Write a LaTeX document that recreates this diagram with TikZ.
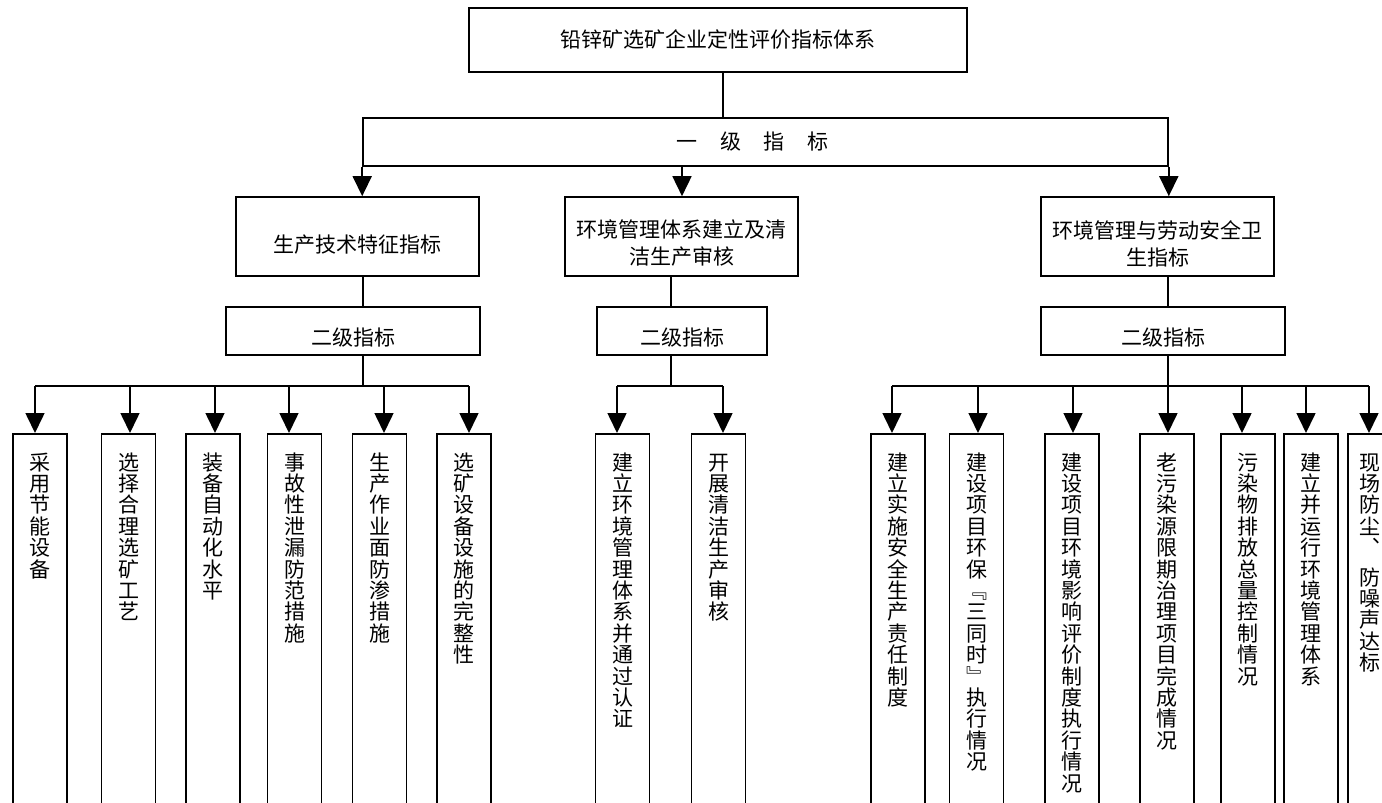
\documentclass[tikz,border=0pt]{standalone}
\usepackage{fontspec}
\newfontfamily\cjk{Noto Sans CJK SC}
\usetikzlibrary{arrows.meta,calc}
\newcommand{\vcol}[3]{%
  \foreach \ch [count=\i from 0] in {#3} {
    \node[vch] at ($(#1.north)+(0,#2+\i*21.4)$) {\ch};
  }}
\begin{document}
\begin{tikzpicture}[x=1pt,y=-1pt,
  every node/.style={font=\cjk},
  box/.style={draw, line width=1.6pt, inner sep=0pt},
  lbl/.style={font=\cjk\fontsize{21}{27}\selectfont, align=center, inner sep=0pt},
  conn/.style={line width=1.6pt},
  arr/.style={line width=1.6pt, -{Triangle[width=19pt,length=20pt]}},
  leaf/.style={box, minimum width=54pt, minimum height=420pt, anchor=north},
  vch/.style={font=\cjk\fontsize{21}{21}\selectfont, inner sep=0pt, text height=18.5pt, text depth=2.5pt},
]
\useasboundingbox (0,0) rectangle (1382,803);
\clip (0,0) rectangle (1382,803);

% top
\node[box, minimum width=498pt, minimum height=64pt,
  label={[lbl]center:铅锌矿选矿企业定性评价指标体系}] (top) at (718,40) {};
\node[box, minimum width=805pt, minimum height=48pt,
  label={[lbl, xshift=-13pt]center:一\hspace{22.7pt}级\hspace{22.7pt}指\hspace{22.7pt}标}] (yi) at (765.5,142) {};

% level 1
\node[box, minimum width=243pt, minimum height=79pt,
  label={[lbl,yshift=-8pt]center:生产技术特征指标}] (a1) at (357.5,236.5) {};
\node[box, minimum width=233pt, minimum height=79pt,
  label={[lbl,yshift=-7pt]center:{环境管理体系建立及清\\洁生产审核}}] (b1) at (681.5,236.5) {};
\node[box, minimum width=233pt, minimum height=79pt,
  label={[lbl,yshift=-7pt]center:{环境管理与劳动安全卫\\生指标}}] (c1) at (1157.5,236.5) {};

% level 2
\node[box, minimum width=254pt, minimum height=48pt,
  label={[lbl,yshift=-7pt]center:二级指标}] (a2) at (353,331) {};
\node[box, minimum width=170pt, minimum height=48pt,
  label={[lbl,yshift=-7pt]center:二级指标}] (b2) at (682,331) {};
\node[box, minimum width=244pt, minimum height=48pt,
  label={[lbl,yshift=-7pt]center:二级指标}] (c2) at (1163,331) {};

% leaves
\node[leaf] (l1) at (40,433) {};
\node[leaf] (l2) at (128.5,433) {};
\node[leaf] (l3) at (213,433) {};
\node[leaf] (l4) at (294.5,433) {};
\node[leaf] (l5) at (379.5,433) {};
\node[leaf] (l6) at (464,433) {};
\node[leaf] (m1) at (622.5,433) {};
\node[leaf] (m2) at (718.5,433) {};
\node[leaf] (r1) at (898,433) {};
\node[leaf] (r2) at (976.5,433) {};
\node[leaf] (r3) at (1072,433) {};
\node[leaf] (r4) at (1167,433) {};
\node[leaf] (r5) at (1248,433) {};
\node[leaf] (r6) at (1311,433) {};
\node[leaf, minimum width=44pt] (r7) at (1370,433) {};

\vcol{l1}{29}{采,用,节,能,设,备}
\vcol{l2}{29}{选,择,合,理,选,矿,工,艺}
\vcol{l3}{29}{装,备,自,动,化,水,平}
\vcol{l4}{29}{事,故,性,泄,漏,防,范,措,施}
\vcol{l5}{29}{生,产,作,业,面,防,渗,措,施}
\vcol{l6}{29}{选,矿,设,备,设,施,的,完,整,性}
\vcol{m1}{29}{建,立,环,境,管,理,体,系,并,通,过,认,证}
\vcol{m2}{29}{开,展,清,洁,生,产,审,核}
\vcol{r1}{29}{建,立,实,施,安,全,生,产,责,任,制,度}
\vcol{r2}{29}{建,设,项,目,环,保,﹃,三,同,时,﹄,执,行,情,况}
\vcol{r3}{29}{建,设,项,目,环,境,影,响,评,价,制,度,执,行,情,况}
\vcol{r4}{29}{老,污,染,源,限,期,治,理,项,目,完,成,情,况}
\vcol{r5}{29}{污,染,物,排,放,总,量,控,制,情,况}
\vcol{r6}{29}{建,立,并,运,行,环,境,管,理,体,系}
\vcol{r7}{29}{现,场,防,尘,︑}
\vcol{r7}{144}{防,噪,声,达,标}

% connector coordinates
\coordinate (tx) at (723,0);
\coordinate (mx) at (682,0);
\coordinate (ax) at (363,0);
\coordinate (bx) at (671,0);
\coordinate (cx) at (1168,0);

\draw[conn] (tx |- top.south) -- (tx |- yi.north);
\draw[arr] (yi.south west) -- (yi.south west |- a1.north);
\draw[arr] (mx |- yi.south) -- (mx |- b1.north);
\draw[arr] (yi.south east) -- (yi.south east |- c1.north);

\draw[conn] (ax |- a1.south) -- (ax |- a2.north);
\draw[conn] (bx |- b1.south) -- (bx |- b2.north);
\draw[conn] (cx |- c1.south) -- (cx |- c2.north);

% buses
\coordinate (lt1) at (35,386);  \coordinate (lt2) at (130,386);
\coordinate (lt3) at (215,386); \coordinate (lt4) at (289,386);
\coordinate (lt5) at (384,386); \coordinate (lt6) at (469,386);
\coordinate (mt1) at (617,386); \coordinate (mt2) at (723,386);
\coordinate (rt1) at (892,386); \coordinate (rt2) at (978,386);
\coordinate (rt3) at (1073,386); \coordinate (rt4) at (1168,386);
\coordinate (rt5) at (1242,386); \coordinate (rt6) at (1306,386);
\coordinate (rt7) at (1369,386);

\draw[conn] (ax |- a2.south) -- (ax |- lt1);
\draw[conn] (bx |- b2.south) -- (bx |- mt1);
\draw[conn] (cx |- c2.south) -- (cx |- rt1);
\draw[conn] (lt1) -- (lt6);
\draw[conn] (mt1) -- (mt2);
\draw[conn] (rt1) -- (rt7);

\draw[arr] (lt1) -- (lt1 |- l1.north);
\draw[arr] (lt2) -- (lt2 |- l2.north);
\draw[arr] (lt3) -- (lt3 |- l3.north);
\draw[arr] (lt4) -- (lt4 |- l4.north);
\draw[arr] (lt5) -- (lt5 |- l5.north);
\draw[arr] (lt6) -- (lt6 |- l6.north);
\draw[arr] (mt1) -- (mt1 |- m1.north);
\draw[arr] (mt2) -- (mt2 |- m2.north);
\draw[arr] (rt1) -- (rt1 |- r1.north);
\draw[arr] (rt2) -- (rt2 |- r2.north);
\draw[arr] (rt3) -- (rt3 |- r3.north);
\draw[arr] (rt4) -- (rt4 |- r4.north);
\draw[arr] (rt5) -- (rt5 |- r5.north);
\draw[arr] (rt6) -- (rt6 |- r6.north);
\draw[arr] (rt7) -- (rt7 |- r7.north);
\end{tikzpicture}
\end{document}
